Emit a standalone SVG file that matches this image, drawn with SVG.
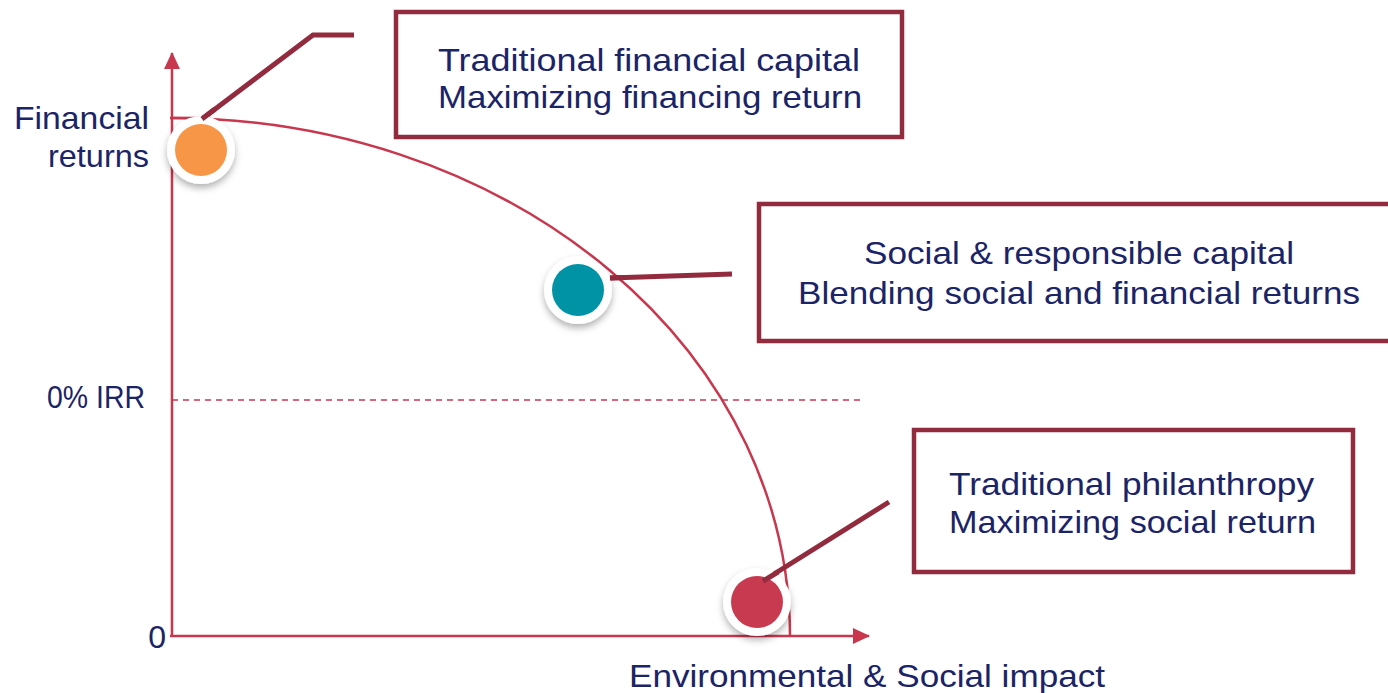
<svg xmlns="http://www.w3.org/2000/svg" width="1388" height="693" viewBox="0 0 1388 693">
<style>
.t{font-family:"Liberation Sans",Arial,sans-serif;font-size:32px;fill:#1B2466}
.axis{stroke:#C8374E;stroke-width:2.5;fill:none}
.callout{stroke:#922B3E;stroke-width:5;fill:none}
.box{stroke:#922B3E;stroke-width:4.5;fill:#fff}
.ring{fill:#fff;filter:url(#sh)}
</style>
<defs>
<marker id="ah" markerWidth="18" markerHeight="18" refX="16" refY="8" orient="auto" markerUnits="userSpaceOnUse">
<path d="M0,0 L17,8 L0,16 Z" fill="#C8374E"/>
</marker>
<filter id="sh" x="-40%" y="-40%" width="180%" height="190%">
<feDropShadow dx="0" dy="4" stdDeviation="3.5" flood-color="#000" flood-opacity="0.3"/>
</filter>
</defs>
<rect width="1388" height="693" fill="#fff"/>
<g id="axes">
<line class="axis" x1="172" y1="637" x2="172" y2="53" marker-end="url(#ah)"/>
<line class="axis" x1="170" y1="636" x2="869" y2="636" marker-end="url(#ah)"/>
<line class="axis" x1="170" y1="118" x2="200" y2="118" stroke-width="2"/>
<line x1="172" y1="400" x2="865" y2="400" stroke="#C8374E" stroke-width="1.5" stroke-dasharray="6,5"/>
<path class="axis" stroke-width="2" d="M172,118 A618,518 0 0 1 790,636"/>
</g>
<g id="labels">
<text class="t" x="149" y="129" text-anchor="end" textLength="135" lengthAdjust="spacingAndGlyphs">Financial</text>
<text class="t" x="149" y="167" text-anchor="end" textLength="101" lengthAdjust="spacingAndGlyphs">returns</text>
<text class="t" x="145" y="408" text-anchor="end" textLength="98" lengthAdjust="spacingAndGlyphs">0% IRR</text>
<text class="t" x="166" y="648" text-anchor="end">0</text>
<text class="t" x="629" y="687" textLength="476" lengthAdjust="spacingAndGlyphs">Environmental &amp; Social impact</text>
</g>
<g id="connectors">
<polyline class="callout" points="202,119 313,35 354,35"/>
<line class="callout" x1="610" y1="278" x2="732" y2="274"/>
<line class="callout" x1="763" y1="581" x2="889" y2="502"/>
</g>
<g id="node-financial">
<circle class="ring" cx="201" cy="150" r="34"/>
<circle cx="201" cy="150" r="26" fill="#F79646"/>
</g>
<g id="node-social">
<circle class="ring" cx="578" cy="290" r="34"/>
<circle cx="578" cy="290" r="26" fill="#0093A6"/>
</g>
<g id="node-philanthropy">
<circle class="ring" cx="757" cy="602" r="34"/>
<circle cx="757" cy="602" r="26" fill="#C83A50"/>
</g>
<g id="connector-ends">
<line class="callout" x1="202" y1="119" x2="215" y2="109"/>
<line class="callout" x1="610" y1="278" x2="625" y2="277.5"/>
<line class="callout" x1="763" y1="581" x2="778" y2="572"/>
</g>
<g id="box-traditional-capital">
<rect class="box" x="396" y="12" width="506" height="125"/>
<text class="t" x="438" y="71" textLength="422" lengthAdjust="spacingAndGlyphs">Traditional financial capital</text>
<text class="t" x="438" y="108" textLength="424" lengthAdjust="spacingAndGlyphs">Maximizing financing return</text>
</g>
<g id="box-social-capital">
<rect class="box" x="759" y="204" width="640" height="137"/>
<text class="t" x="864" y="264" textLength="430" lengthAdjust="spacingAndGlyphs">Social &amp; responsible capital</text>
<text class="t" x="798" y="304" textLength="562" lengthAdjust="spacingAndGlyphs">Blending social and financial returns</text>
</g>
<g id="box-philanthropy">
<rect class="box" x="914" y="430" width="439" height="142"/>
<text class="t" x="949" y="495" textLength="365" lengthAdjust="spacingAndGlyphs">Traditional philanthropy</text>
<text class="t" x="949" y="533" textLength="367" lengthAdjust="spacingAndGlyphs">Maximizing social return</text>
</g>
</svg>
